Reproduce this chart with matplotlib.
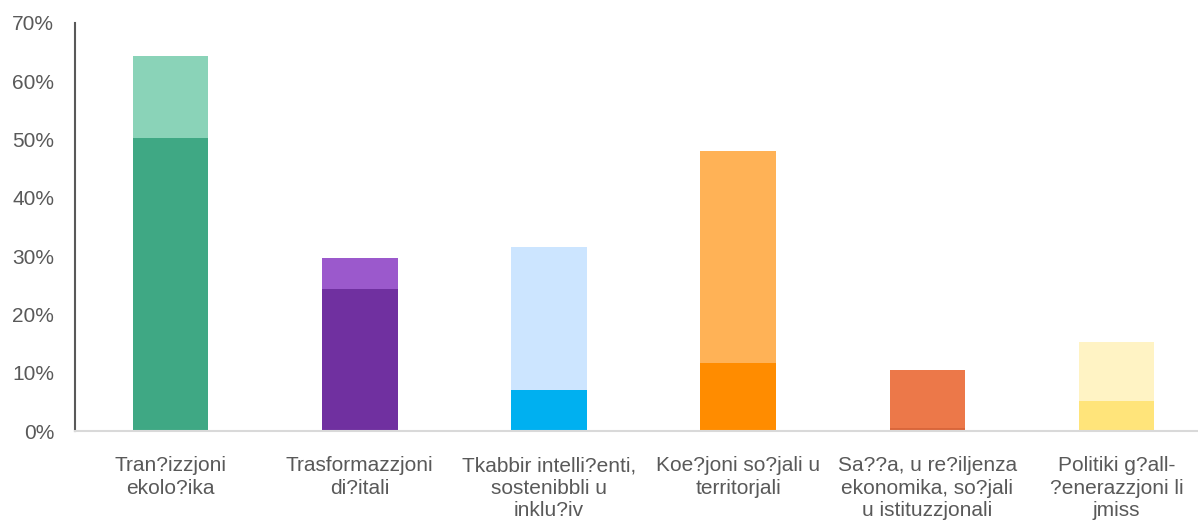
"""Stacked bar chart of allocation shares per policy area."""

import matplotlib.pyplot as plt
from matplotlib.ticker import PercentFormatter

plt.rcParams["font.family"] = ["Liberation Sans", "DejaVu Sans"]

categories = [
    "Tran?izzjoni\nekolo?ika",
    "Trasformazzjoni\ndi?itali",
    "Tkabbir intelli?enti,\nsostenibbli u\ninklu?iv",
    "Koe?joni so?jali u\nterritorjali",
    "Sa??a, u re?iljenza\nekonomika, so?jali\nu istituzzjonali",
    "Politiki g?all-\n?enerazzjoni li\njmiss",
]
base_share = [0.503, 0.244, 0.070, 0.117, 0.005, 0.051]
extra_share = [0.140, 0.053, 0.246, 0.363, 0.100, 0.102]

base_colors = ["#3FA884", "#7030A0", "#00B0F0", "#FF8C00", "#D9663A", "#FFE47A"]
extra_colors = ["#8AD3B8", "#9B59CC", "#CCE5FF", "#FFB256", "#EC7849", "#FFF3C4"]

fig = plt.figure(figsize=(11.98, 5.21), dpi=100)
ax = fig.add_axes([0.0626, 0.1727, 0.9374, 0.7832])

x = range(len(categories))
ax.bar(x, base_share, width=0.4, color=base_colors)
ax.bar(x, extra_share, width=0.4, bottom=base_share, color=extra_colors)

ax.set_xlim(-0.505, 5.43)
ax.set_ylim(0, 0.7)
ax.set_yticks([i / 10 for i in range(8)])
ax.yaxis.set_major_formatter(PercentFormatter(1.0, decimals=0))
ax.set_xticks(list(x))
ax.set_xticklabels(categories, linespacing=1.24)
ax.tick_params(axis="both", length=0, labelsize=15, colors="#595959")
ax.tick_params(axis="x", pad=18)
ax.tick_params(axis="y", pad=15)

for side in ("top", "right"):
    ax.spines[side].set_visible(False)
ax.spines["left"].set_color("#595959")
ax.spines["left"].set_linewidth(1.5)
ax.spines["bottom"].set_color("#D9D9D9")
ax.spines["bottom"].set_linewidth(1.5)

fig.savefig("out.png", dpi=100)
plt.close()
